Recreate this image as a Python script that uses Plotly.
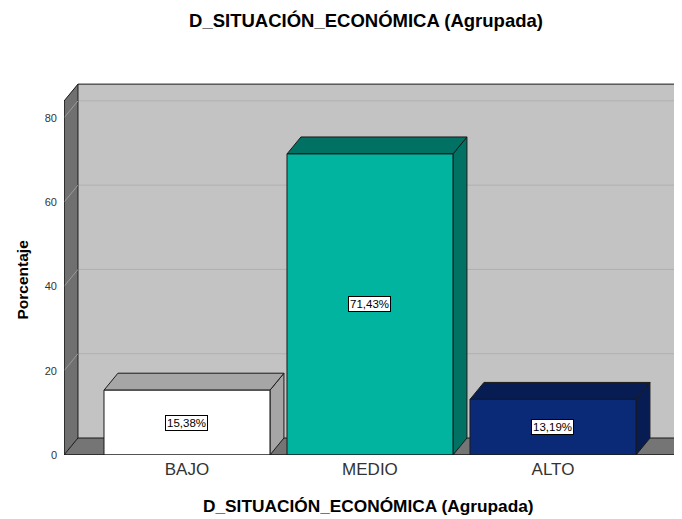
import plotly.graph_objects as go

categories = ["BAJO", "MEDIO", "ALTO"]
values = [15.38, 71.43, 13.19]
value_labels = ["15,38%", "71,43%", "13,19%"]
y_ticks = [0, 20, 40, 60, 80]

front_colors = ["#ffffff", "#00b4a0", "#0a2a78"]
shade_colors = ["#a6a6a6", "#007162", "#061c52"]

FONT = "Liberation Sans, Arial, sans-serif"
OFF = 8                      # page body margin of the html page
W, H = 682 - OFF, 519 - OFF
ML, MR, MT, MB = 64 - OFF, 0, 82 - OFF, 64
PW, PH = W - ML - MR, H - MT - MB

x0, x1 = -0.672, 2.705     # x range
y0, y1 = 0, 88.5           # y range
dx, dy = 0.0763, 4.03      # 3D depth offset in data units
wall_top = 88.0
floor_right = 2.683
bar_w = 0.907


def px(xp):
    # screen pixel (reference) -> paper x
    return (xp - OFF - ML) / PW


def py(yp):
    return (H - MB - (yp - OFF)) / PH


fig = go.Figure()


def poly(xs, ys, fill, line="#1a1a1a", lw=1):
    fig.add_trace(go.Scatter(x=xs + [xs[0]], y=ys + [ys[0]], mode="lines",
                             fill="toself", fillcolor=fill,
                             line=dict(color=line, width=lw),
                             hoverinfo="skip", showlegend=False))


def seg(xs, ys, color, lw=1):
    fig.add_trace(go.Scatter(x=xs, y=ys, mode="lines",
                             line=dict(color=color, width=lw),
                             hoverinfo="skip", showlegend=False))


# back wall
poly([x0 + dx, x1 + 0.1, x1 + 0.1, x0 + dx], [dy, dy, wall_top, wall_top], "#c3c3c3",
     line="rgba(0,0,0,0)")
# grid lines on back wall
for v in y_ticks[1:]:
    seg([x0 + dx, x1 + 0.1], [v + dy, v + dy], "#b0b0b0")
# left wall
poly([x0, x0, x0 + dx, x0 + dx], [0, wall_top - dy, wall_top, dy], "#707070", line="#1a1a1a")
for v in y_ticks:
    seg([x0, x0 + dx], [v, v + dy], "#9a9a9a")
# floor
poly([x0, floor_right, floor_right + dx, x0 + dx], [0, 0, dy, dy], "#757575", line="#1a1a1a")
# top edge of back wall
seg([x0 + dx, x1 + 0.1], [wall_top, wall_top], "#1a1a1a")

# bars
for i, v in enumerate(values):
    l, r = i - bar_w / 2, i + bar_w / 2
    poly([r, r, r + dx, r + dx], [0, v, v + dy, dy], shade_colors[i])          # side
    poly([l, l + dx, r + dx, r], [v, v + dy, v + dy, v], shade_colors[i])      # top
    poly([l, r, r, l], [0, 0, v, v], front_colors[i])                          # front

# front axis lines
seg([x0, floor_right], [0, 0], "#1a1a1a")
seg([x0, x0], [0, wall_top - dy], "#1a1a1a")

annotations = []
for i, v in enumerate(values):
    annotations.append(dict(x=i, y=v / 2, xref="x", yref="y", text=value_labels[i],
                            showarrow=False, bgcolor="white", bordercolor="black",
                            borderwidth=1, borderpad=1,
                            font=dict(family=FONT, size=11.5, color="black")))
annotations.append(dict(x=px(21.5), y=py(280), xref="paper", yref="paper",
                        xanchor="center", yanchor="middle",
                        text="<b>Porcentaje</b>", showarrow=False, textangle=-90,
                        font=dict(family=FONT, size=15.5, color="black")))
annotations.append(dict(x=px(368), y=py(506), xref="paper", yref="paper",
                        xanchor="center", yanchor="middle",
                        text="<b>D_SITUACIÓN_ECONÓMICA (Agrupada)</b>", showarrow=False,
                        font=dict(family=FONT, size=17.3, color="black")))

fig.update_layout(
    width=W, height=H,
    margin=dict(l=ML, r=MR, t=MT, b=MB, autoexpand=False),
    paper_bgcolor="white", plot_bgcolor="white",
    title=dict(text="<b>D_SITUACIÓN_ECONÓMICA (Agrupada)</b>", x=(366 - OFF) / W,
               xanchor="center", y=1 - (21 - OFF) / H, yanchor="middle",
               font=dict(family=FONT, size=18.5, color="black")),
    xaxis=dict(range=[x0, x1], tickvals=list(range(len(categories))), ticktext=categories,
               showgrid=False, zeroline=False, showline=False, ticks="", automargin=False,
               ticklabelstandoff=2,
               tickfont=dict(family=FONT, size=17, color="#333333")),
    yaxis=dict(range=[y0, y1], tickvals=y_ticks, showgrid=False, zeroline=False,
               showline=False, ticks="", ticklabelstandoff=6, automargin=False,
               tickfont=dict(family=FONT, size=11, color="#333333")),
    annotations=annotations,
)

fig.write_html("out.html")
